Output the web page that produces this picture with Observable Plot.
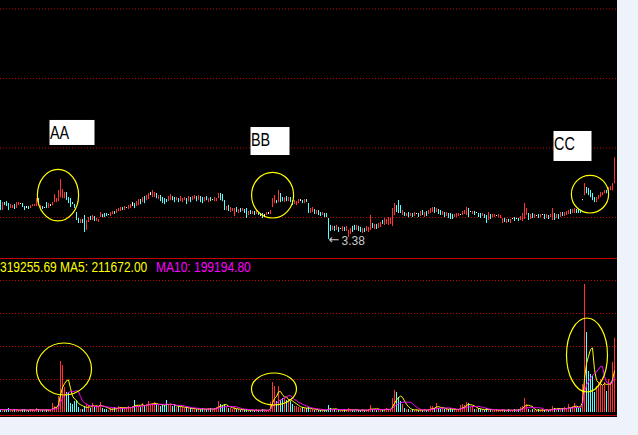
<!DOCTYPE html>
<html><head><meta charset="utf-8">
<script src="https://cdn.jsdelivr.net/npm/d3@7"></script>
<script src="https://cdn.jsdelivr.net/npm/@observablehq/plot@0.6"></script>
<style>
html,body{margin:0;padding:0;background:#eef3fb;}
#wrap{position:relative;width:638px;height:435px;overflow:hidden;background:#eef3fb;}
#panel{position:absolute;left:0;top:0;width:617px;height:417px;background:#000;}
#price,#vol{position:absolute;left:0;}
#price{top:0}
#vol{top:258px}
#legend{position:absolute;left:0;top:259px;font:12px "Liberation Sans",Arial,sans-serif;line-height:14px;white-space:pre;transform:scaleY(1.15);transform-origin:0 0;}
</style></head><body>
<div id="wrap"><div id="panel"></div><div id="price"></div><div id="vol"></div><div id="legend"></div></div>
<script>
const open = [
3.77,3.67,3.75,3.76,3.74,3.69,3.69,3.73,3.69,3.72,
3.74,3.74,3.71,3.70,3.71,3.69,3.71,3.71,3.71,3.79,
3.69,3.71,3.70,3.75,3.69,3.72,3.72,3.75,3.75,3.76,
3.80,3.79,3.79,3.85,3.80,3.79,3.75,3.73,3.65,3.59,
3.54,3.58,3.62,3.47,3.55,3.61,3.57,3.61,3.56,3.55,
3.60,3.63,3.64,3.64,3.63,3.61,3.63,3.66,3.64,3.66,
3.66,3.70,3.67,3.70,3.68,3.69,3.73,3.74,3.71,3.72,
3.78,3.75,3.81,3.77,3.78,3.83,3.80,3.80,3.84,3.78,
3.82,3.80,3.79,3.78,3.76,3.77,3.81,3.80,3.77,3.79,
3.76,3.75,3.77,3.79,3.76,3.80,3.77,3.78,3.81,3.77,
3.81,3.80,3.76,3.81,3.75,3.80,3.78,3.76,3.76,3.79,
3.84,3.83,3.77,3.67,3.72,3.65,3.66,3.61,3.70,3.64,
3.69,3.66,3.68,3.69,3.62,3.67,3.63,3.66,3.63,3.65,
3.63,3.64,3.62,3.62,3.64,3.63,3.70,3.74,3.77,3.75,
3.84,3.80,3.75,3.81,3.76,3.80,3.77,3.73,3.72,3.74,
3.77,3.77,3.74,3.78,3.74,3.64,3.65,3.68,3.63,3.67,
3.65,3.62,3.64,3.64,3.59,3.52,3.47,3.51,3.47,3.50,
3.49,3.46,3.50,3.46,3.40,3.43,3.51,3.52,3.47,3.51,
3.50,3.44,3.49,3.46,3.45,3.47,3.54,3.48,3.53,3.49,
3.50,3.57,3.52,3.53,3.52,3.53,3.51,3.62,3.72,3.77,
3.72,3.62,3.65,3.61,3.65,3.61,3.64,3.61,3.64,3.64,
3.61,3.67,3.60,3.66,3.63,3.64,3.65,3.70,3.65,3.68,
3.67,3.62,3.65,3.61,3.64,3.64,3.63,3.60,3.60,3.61,
3.63,3.62,3.63,3.62,3.69,3.66,3.63,3.66,3.65,3.64,
3.64,3.61,3.63,3.62,3.57,3.63,3.60,3.60,3.62,3.60,
3.59,3.54,3.59,3.54,3.58,3.54,3.59,3.60,3.59,3.59,
3.57,3.56,3.58,3.62,3.64,3.58,3.64,3.59,3.62,3.63,
3.60,3.63,3.63,3.59,3.62,3.60,3.57,3.64,3.59,3.63,
3.60,3.65,3.61,3.62,3.63,3.68,3.64,3.64,3.68,3.68,
3.67,3.78,3.82,3.90,3.89,3.87,3.84,3.80,3.75,3.78,
3.80,3.82,3.84,3.87,3.85,3.87,3.87,3.94];
const close = [
3.67,3.75,3.72,3.71,3.67,3.73,3.72,3.68,3.75,3.75,
3.74,3.70,3.67,3.70,3.68,3.72,3.73,3.73,3.79,3.72,
3.72,3.68,3.70,3.69,3.74,3.72,3.75,3.83,3.79,3.87,
3.98,3.88,3.85,3.77,3.74,3.70,3.73,3.69,3.57,3.54,
3.58,3.54,3.45,3.57,3.60,3.57,3.62,3.56,3.59,3.58,
3.65,3.60,3.60,3.61,3.63,3.65,3.66,3.63,3.68,3.69,
3.70,3.67,3.71,3.70,3.72,3.73,3.73,3.69,3.76,3.78,
3.73,3.80,3.74,3.82,3.84,3.83,3.87,3.85,3.79,3.82,
3.76,3.74,3.73,3.75,3.81,3.83,3.77,3.75,3.80,3.75,
3.81,3.79,3.80,3.73,3.81,3.75,3.81,3.82,3.76,3.82,
3.75,3.74,3.80,3.77,3.79,3.76,3.78,3.80,3.79,3.84,
3.77,3.76,3.67,3.71,3.66,3.70,3.69,3.69,3.65,3.68,
3.65,3.69,3.64,3.59,3.66,3.63,3.66,3.62,3.67,3.62,
3.63,3.59,3.62,3.65,3.64,3.67,3.79,3.82,3.74,3.87,
3.75,3.76,3.80,3.76,3.80,3.75,3.72,3.77,3.76,3.78,
3.77,3.74,3.78,3.75,3.64,3.69,3.70,3.63,3.67,3.62,
3.61,3.65,3.60,3.60,3.40,3.46,3.51,3.46,3.52,3.45,
3.49,3.51,3.46,3.51,3.47,3.49,3.45,3.47,3.52,3.46,
3.45,3.49,3.45,3.51,3.50,3.62,3.49,3.53,3.48,3.54,
3.55,3.53,3.59,3.58,3.60,3.59,3.69,3.74,3.65,3.64,
3.64,3.67,3.61,3.64,3.60,3.64,3.60,3.65,3.64,3.60,
3.66,3.62,3.65,3.61,3.67,3.69,3.70,3.64,3.69,3.63,
3.62,3.66,3.60,3.65,3.59,3.58,3.58,3.63,3.64,3.64,
3.63,3.66,3.67,3.70,3.60,3.66,3.66,3.62,3.65,3.60,
3.59,3.64,3.59,3.54,3.65,3.58,3.63,3.63,3.62,3.63,
3.62,3.59,3.55,3.58,3.55,3.58,3.59,3.56,3.59,3.56,
3.61,3.64,3.74,3.69,3.57,3.63,3.59,3.63,3.62,3.59,
3.63,3.63,3.58,3.63,3.58,3.63,3.69,3.57,3.63,3.58,
3.65,3.61,3.65,3.66,3.67,3.63,3.68,3.69,3.64,3.64,
3.64,3.78,3.94,3.84,3.82,3.80,3.77,3.75,3.80,3.82,
3.85,3.85,3.87,3.84,3.90,3.91,3.94,4.20];
const high = [
3.77,3.75,3.75,3.76,3.74,3.73,3.72,3.73,3.75,3.75,
3.74,3.74,3.71,3.71,3.71,3.72,3.73,3.73,3.79,3.79,
3.72,3.71,3.70,3.75,3.74,3.73,3.75,3.83,3.79,3.87,
3.98,3.88,3.85,3.85,3.80,3.79,3.75,3.73,3.65,3.59,
3.58,3.58,3.62,3.57,3.60,3.61,3.62,3.61,3.59,3.58,
3.65,3.63,3.64,3.64,3.63,3.65,3.66,3.66,3.68,3.69,
3.70,3.70,3.71,3.70,3.72,3.73,3.75,3.74,3.76,3.78,
3.78,3.80,3.81,3.82,3.84,3.85,3.87,3.85,3.84,3.82,
3.82,3.80,3.79,3.78,3.81,3.83,3.81,3.80,3.80,3.79,
3.81,3.79,3.80,3.79,3.81,3.80,3.81,3.82,3.81,3.82,
3.81,3.80,3.80,3.81,3.79,3.80,3.78,3.80,3.79,3.84,
3.84,3.83,3.77,3.71,3.72,3.70,3.69,3.69,3.70,3.68,
3.69,3.69,3.68,3.69,3.66,3.67,3.66,3.66,3.67,3.65,
3.64,3.64,3.63,3.65,3.65,3.67,3.79,3.82,3.77,3.87,
3.84,3.80,3.80,3.81,3.80,3.80,3.77,3.77,3.76,3.78,
3.78,3.77,3.78,3.78,3.74,3.69,3.70,3.68,3.67,3.67,
3.65,3.65,3.64,3.64,3.59,3.52,3.51,3.51,3.52,3.50,
3.49,3.51,3.50,3.51,3.47,3.49,3.51,3.52,3.52,3.51,
3.50,3.49,3.49,3.51,3.50,3.62,3.54,3.53,3.53,3.54,
3.55,3.57,3.59,3.58,3.60,3.59,3.69,3.74,3.72,3.77,
3.72,3.67,3.65,3.64,3.65,3.64,3.64,3.65,3.64,3.64,
3.66,3.67,3.65,3.66,3.67,3.69,3.70,3.70,3.69,3.68,
3.67,3.66,3.65,3.65,3.64,3.64,3.63,3.63,3.64,3.64,
3.63,3.66,3.67,3.70,3.69,3.66,3.66,3.66,3.65,3.64,
3.64,3.64,3.63,3.62,3.65,3.63,3.63,3.63,3.62,3.63,
3.62,3.59,3.59,3.58,3.58,3.58,3.59,3.60,3.59,3.59,
3.61,3.64,3.74,3.69,3.64,3.63,3.64,3.63,3.62,3.63,
3.63,3.63,3.63,3.63,3.62,3.63,3.69,3.64,3.63,3.63,
3.65,3.65,3.65,3.66,3.67,3.68,3.68,3.69,3.68,3.68,
3.67,3.78,3.94,3.90,3.89,3.87,3.84,3.80,3.80,3.82,
3.85,3.85,3.87,3.87,3.90,3.91,3.94,4.20];
const low = [
3.67,3.67,3.72,3.71,3.67,3.69,3.69,3.68,3.69,3.72,
3.73,3.70,3.67,3.69,3.68,3.69,3.71,3.71,3.71,3.72,
3.69,3.68,3.69,3.69,3.69,3.71,3.72,3.75,3.75,3.76,
3.80,3.79,3.79,3.77,3.74,3.70,3.73,3.69,3.57,3.54,
3.54,3.54,3.45,3.47,3.55,3.57,3.57,3.56,3.56,3.55,
3.60,3.60,3.60,3.61,3.62,3.61,3.63,3.63,3.64,3.66,
3.66,3.67,3.67,3.69,3.68,3.69,3.71,3.69,3.71,3.72,
3.73,3.75,3.74,3.77,3.78,3.82,3.80,3.80,3.79,3.78,
3.76,3.74,3.73,3.75,3.76,3.77,3.77,3.75,3.77,3.75,
3.76,3.75,3.77,3.73,3.76,3.75,3.77,3.78,3.76,3.77,
3.75,3.74,3.76,3.77,3.75,3.76,3.77,3.76,3.76,3.79,
3.77,3.76,3.67,3.67,3.66,3.65,3.66,3.61,3.65,3.64,
3.65,3.66,3.64,3.59,3.62,3.63,3.63,3.62,3.63,3.62,
3.61,3.59,3.60,3.62,3.63,3.63,3.70,3.74,3.74,3.75,
3.75,3.76,3.75,3.76,3.76,3.75,3.72,3.73,3.72,3.74,
3.76,3.74,3.74,3.75,3.64,3.64,3.65,3.63,3.63,3.62,
3.61,3.62,3.60,3.60,3.38,3.46,3.47,3.46,3.47,3.45,
3.48,3.46,3.46,3.46,3.40,3.43,3.45,3.47,3.47,3.46,
3.45,3.44,3.45,3.46,3.45,3.47,3.49,3.48,3.48,3.49,
3.50,3.53,3.52,3.53,3.52,3.53,3.51,3.62,3.65,3.64,
3.64,3.62,3.61,3.61,3.60,3.61,3.60,3.61,3.63,3.60,
3.61,3.62,3.60,3.61,3.63,3.64,3.65,3.64,3.65,3.63,
3.62,3.62,3.60,3.61,3.59,3.58,3.58,3.60,3.60,3.61,
3.62,3.62,3.63,3.62,3.60,3.65,3.63,3.62,3.64,3.60,
3.59,3.61,3.59,3.54,3.57,3.58,3.60,3.60,3.61,3.60,
3.59,3.54,3.55,3.54,3.55,3.54,3.58,3.56,3.58,3.56,
3.57,3.56,3.58,3.62,3.57,3.58,3.59,3.59,3.61,3.59,
3.60,3.62,3.58,3.59,3.58,3.60,3.57,3.57,3.59,3.58,
3.60,3.61,3.61,3.62,3.63,3.63,3.64,3.64,3.64,3.64,
3.64,3.77,3.82,3.84,3.82,3.80,3.77,3.75,3.75,3.78,
3.80,3.82,3.84,3.84,3.85,3.87,3.87,3.94];
const volume = [
12900,12900,8600,12900,17200,8600,8600,12900,12900,8600,
8600,12900,12900,8600,8600,12900,12900,8600,17200,12900,
8600,8600,8600,12900,12900,8600,38700,25800,21500,68800,
219300,202100,107500,86000,86000,38700,34400,47300,51600,21500,
12900,12900,25800,34400,30100,17200,38700,21500,30100,25800,
43000,17200,12900,12900,8600,17200,17200,21500,17200,25800,
21500,17200,21500,17200,25800,21500,25800,51600,30100,25800,
21500,38700,30100,34400,47300,30100,38700,43000,34400,30100,
25800,34400,30100,51600,30100,34400,25800,30100,21500,25800,
25800,21500,17200,21500,17200,17200,12900,17200,12900,17200,
12900,17200,12900,12900,17200,17200,12900,17200,21500,47300,
34400,30100,34400,21500,17200,17200,12900,21500,12900,12900,
8600,8600,12900,12900,8600,8600,8600,8600,12900,8600,
8600,12900,8600,8600,8600,43000,129000,111800,47300,111800,
51600,60200,60200,51600,55900,47300,34400,25800,25800,21500,
17200,21500,17200,17200,21500,12900,12900,8600,12900,8600,
8600,12900,8600,8600,30100,17200,8600,12900,8600,12900,
8600,8600,12900,8600,17200,12900,8600,8600,12900,8600,
8600,12900,8600,8600,12900,30100,12900,12900,8600,12900,
12900,8600,12900,17200,12900,12900,60200,94600,86000,64500,
47300,34400,17200,12900,12900,8600,12900,8600,12900,8600,
12900,8600,12900,8600,12900,25800,25800,17200,38700,17200,
12900,17200,12900,17200,12900,17200,12900,12900,8600,12900,
30100,34400,30100,43000,38700,21500,25800,12900,12900,17200,
12900,12900,8600,17200,12900,12900,8600,8600,12900,8600,
8600,12900,8600,8600,12900,8600,8600,12900,8600,12900,
21500,25800,60200,34400,12900,8600,12900,8600,8600,12900,
8600,12900,8600,12900,8600,12900,25800,17200,12900,17200,
12900,17200,21500,12900,34400,17200,25800,38700,21500,17200,
17200,120400,550400,344000,176300,163400,154800,86000,111800,129000,
141900,111800,129000,90300,141900,129000,215000,319255.69];

// grid values (the chart shows no tick labels)
const priceGrid = [3.6, 4.3, 5.0, 5.7];
const volGrid = [141900, 283800, 425700, 567600];
const priceDomain = [3.187, 5.785];
const volDomain = [0, 662200];
// legend values
const ma5Label = 211672.00;
const ma10Label = 199194.80;
// annotations (candle index / price or volume units)
const notes = [
  {label: "AA", i1: 24.75, i2: 47.25, top: 4.577, bottom: 4.325},
  {label: "BB", i1: 125.25, i2: 144.75, top: 4.506, bottom: 4.224},
  {label: "CC", i1: 276.75, i2: 295.75, top: 4.466, bottom: 4.164}
];
const priceRings = [
  {i: 29, p: 3.82, ri: 10.3, rp: 0.26},
  {i: 136.3, p: 3.82, ri: 10.5, rp: 0.23},
  {i: 295, p: 3.83, ri: 9.3, rp: 0.19}
];
const volRings = [
  {i: 32, v: 184900, ri: 13.75, rv: 111800},
  {i: 137, v: 98900, ri: 11.25, rv: 68800},
  {i: 293.5, v: 245100, ri: 10.25, rv: 159100}
];

const N = open.length;
const rows = open.map((o, i) => ({i, open: o, high: high[i], low: low[i], close: close[i], vol: volume[i]}));
const UP = "#ff3232", DOWN = "#54ffff", FLAT = "#ffffff", GRID = "#c00000", LINE = "#c80000";
const sets = [
  [rows.filter(d => d.close > d.open), UP],
  [rows.filter(d => d.close < d.open), DOWN],
  [rows.filter(d => d.close === d.open), FLAT]
];
// candle i sits at x = 2i (+ Plot's 0.5px offset -> crisp 1px lines)
const xOpt = {type: "linear", domain: [0, N + 0.5], axis: null};

function rings(list, vKey, rKey) {
  return (index, scales) => {
    const g = d3.create("svg:g").attr("fill", "none").attr("stroke", "#ffff00").attr("stroke-width", 1.2);
    for (const e of list) {
      const cx = scales.x(e.i), cy = scales.y(e[vKey]);
      const rx = Math.abs(scales.x(e.i + e.ri) - cx), ry = Math.abs(scales.y(e[vKey] + e[rKey]) - cy);
      g.append("ellipse").attr("cx", cx).attr("cy", cy).attr("rx", rx).attr("ry", ry);
    }
    return g.node();
  };
}

const lowest = d3.least(rows, d => d.low);
const sans = "'Liberation Sans',Arial,sans-serif";

const priceChart = Plot.plot({
  width: 617, height: 258, margin: 0,
  style: {background: "transparent", overflow: "visible"},
  x: xOpt,
  y: {domain: priceDomain, axis: null},
  marks: [
    Plot.ruleY(priceGrid, {stroke: GRID, strokeDasharray: "1,2"}),
    ...sets.map(([data, color]) => Plot.ruleX(data, {x: "i", y1: "low", y2: "high", stroke: color})),
    ...sets.map(([data, color]) => Plot.ruleX(data, {x: "i", y1: "open", y2: "close", stroke: color})),
    rings(priceRings, "p", "rp"),
    Plot.rect(notes, {x1: "i1", x2: "i2", y1: "top", y2: "bottom", fill: "white"}),
    Plot.text(notes, {x: "i1", y: "top", text: "label", textAnchor: "start", lineAnchor: "top", dy: 6, fontSize: 18, fontFamily: sans, fill: "black"}),
    Plot.text([lowest], {x: "i", y: "low", text: () => "\u2190", textAnchor: "start", dx: 0, dy: 0, fontSize: 13, fontFamily: "'DejaVu Sans',sans-serif", fill: "#c8c8c8"}),
    Plot.text([lowest], {x: "i", y: "low", text: d => d.low.toFixed(2), textAnchor: "start", dx: 13, dy: 2, fontSize: 12, fontFamily: sans, fill: "#c8c8c8"})
  ]
});
// condense the annotation letters horizontally, like the narrow bitmap font of the original
d3.select(priceChart).selectAll("text").filter(function() { return notes.some(n => n.label === this.textContent); })
  .each(function() {
    const t = d3.select(this);
    const tr = t.attr("transform") || "";
    const x = parseFloat(t.attr("x"));
    if (!isNaN(x) && x !== 0) t.attr("x", x / 0.8);
    t.attr("transform", `${tr} scale(0.8,1)`);
  });
document.getElementById("price").append(priceChart);

const volChart = Plot.plot({
  width: 617, height: 159, marginTop: 0, marginBottom: 5, marginLeft: 0, marginRight: 0,
  style: {background: "transparent", overflow: "visible"},
  x: xOpt,
  y: {domain: volDomain, axis: null},
  marks: [
    Plot.ruleY(volGrid, {stroke: GRID, strokeDasharray: "1,2"}),
    Plot.ruleX(rows, {filter: d => d.close >= d.open, x: "i", y1: 0, y2: "vol", stroke: UP}),
    Plot.ruleX(rows, {filter: d => d.close < d.open, x: "i", y1: 0, y2: "vol", stroke: DOWN}),
    Plot.lineY(rows, Plot.windowY({k: 5, anchor: "end"}, {x: "i", y: "vol", stroke: "#ffff00", strokeWidth: 1})),
    Plot.lineY(rows, Plot.windowY({k: 10, anchor: "end"}, {x: "i", y: "vol", stroke: "#ff00ff", strokeWidth: 1})),
    rings(volRings, "v", "rv"),
    Plot.ruleY([volDomain[1]], {stroke: LINE}),
    Plot.ruleY([0], {stroke: LINE, dy: 3})
  ]
});
document.getElementById("vol").append(volChart);

document.getElementById("legend").innerHTML =
  `<span style="color:#ffff00">${volume[N - 1].toFixed(2)} MA5: ${ma5Label.toFixed(2)}</span>` +
  `<span style="color:#ff00ff;position:absolute;left:156px;top:0">MA10: ${ma10Label.toFixed(2)}</span>`;
</script>
</body></html>
